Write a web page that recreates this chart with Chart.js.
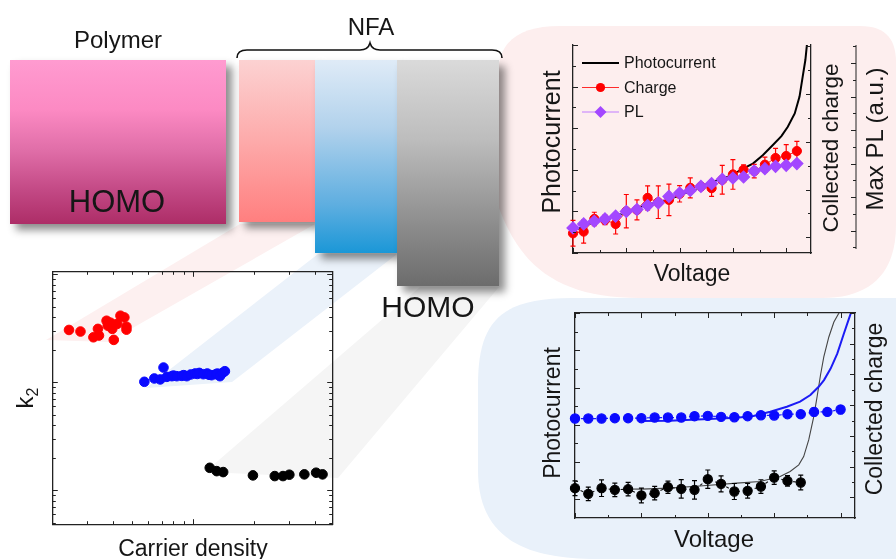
<!DOCTYPE html>
<html>
<head>
<meta charset="utf-8">
<script src="https://cdn.jsdelivr.net/npm/chart.js@4.4.1/dist/chart.umd.min.js"></script>
<style>
html, body { margin: 0; padding: 0; background: #fff; }
#stage { position: relative; width: 896px; height: 559px; overflow: hidden; }
#stage svg, #stage canvas, .box { position: absolute; }
#bg { left: 0; top: 0; z-index: 0; }
.box { z-index: 1; box-shadow: 6px 6px 8px rgba(0, 0, 0, 0.45); }
#stage canvas { z-index: 2; }
#labels { left: 0; top: 0; z-index: 3; font-family: "Liberation Sans", Arial, sans-serif; fill: #161616; }
</style>
</head>
<body>
<div id="stage">
  <svg id="bg" width="896" height="559">
    <path d="M 498,75 C 498,42 518,26 560,26 L 860,26 C 888,26 896,42 896,62 L 896,225 C 896,272 872,298 822,298 L 640,298 C 560,298 520,268 498,205 Z" fill="#fdeeee"/>
    <path d="M 478,385 C 478,322 500,298 572,298 L 896,298 L 896,559 L 590,559 C 530,557 478,542 478,470 Z" fill="#e9f1fa"/>
    <polygon points="240,224 315,224 108,342 46,340" fill="#fdf0f0"/>
    <polygon points="318,254 397,254 232,382 146,388" fill="#ebf2fa"/>
    <polygon points="420,287 499,287 338,478 205,472" fill="#f5f5f5"/>
    <path d="M 237,58 Q 237,50 247,50 L 360,50 Q 368,50 370,43 Q 372,50 380,50 L 492,50 Q 502,50 502,58" fill="none" stroke="#111" stroke-width="1.6"/>
  </svg>

  <div class="box" style="left:10px;top:60px;width:216px;height:164px;background:linear-gradient(#ff9bd0, #fc8ac3 30%, #e06ea8 55%, #c24884 80%, #ad2d67);"></div>
  <div class="box" style="left:239px;top:60px;width:76px;height:162px;background:linear-gradient(#fcd2d2, #fdaaaa 50%, #ff7f7f);"></div>
  <div class="box" style="left:315px;top:60px;width:82px;height:193px;background:linear-gradient(#dfebf7, #b2d2ec 35%, #5eaee0 75%, #1b97d7);"></div>
  <div class="box" style="left:397px;top:60px;width:102px;height:226px;background:linear-gradient(#dadada, #bdbdbd 35%, #8a8a8a 75%, #6c6c6c);"></div>

  <canvas id="densityChart" width="291" height="264" style="left:47px;top:266px"></canvas>
  <canvas id="plChart" width="320" height="230" style="left:560px;top:35px"></canvas>
  <canvas id="blendChart" width="300" height="225" style="left:565px;top:303px"></canvas>

  <svg id="labels" width="896" height="559">
    <text x="118" y="48" font-size="24" text-anchor="middle">Polymer</text>
    <text x="371" y="35" font-size="24" text-anchor="middle">NFA</text>
    <text x="117" y="212" font-size="31" text-anchor="middle">HOMO</text>
    <text x="428" y="317" font-size="30" text-anchor="middle">HOMO</text>

    <text x="193" y="556" font-size="23" text-anchor="middle">Carrier density</text>
    <text transform="translate(33,398) rotate(-90)" font-size="24" text-anchor="middle">k<tspan font-size="16" dy="5">2</tspan></text>

    <text transform="translate(560,142) rotate(-90)" font-size="25" text-anchor="middle">Photocurrent</text>
    <text x="692" y="281" font-size="23" text-anchor="middle">Voltage</text>
    <text transform="translate(838,148) rotate(-90)" font-size="22.5" text-anchor="middle">Collected charge</text>
    <text transform="translate(883,139) rotate(-90)" font-size="24" text-anchor="middle">Max PL (a.u.)</text>

    <text transform="translate(560,413) rotate(-90)" font-size="23" text-anchor="middle">Photocurrent</text>
    <text x="714" y="547" font-size="24" text-anchor="middle">Voltage</text>
    <text transform="translate(882,409) rotate(-90)" font-size="23" text-anchor="middle">Collected charge</text>
  </svg>
</div>

<script>
// k2 vs carrier density, one cluster per acceptor
const redDensity = [2.43, 2.77, 3.21, 3.38, 3.42, 3.73, 3.78, 3.90, 3.98, 4.05, 4.21, 4.37, 4.57, 4.68, 4.68];
const redK2 = [30.4, 29.4, 26.0, 31.1, 27.0, 37.0, 33.3, 35.5, 31.1, 24.6, 34.6, 41.2, 39.7, 32.6, 30.6];
const blueDensity = [5.74, 6.43, 6.88, 7.14, 7.42, 7.85, 8.0, 8.31, 8.80, 9.0, 9.31, 9.74, 10.23, 10.5, 10.74, 11.24, 11.76, 12.0, 12.36, 12.98, 13.2, 13.59, 14.01, 14.38];
const blueK2 = [10.07, 10.81, 10.59, 13.64, 11.19, 11.35, 11.5, 11.35, 11.42, 11.6, 11.35, 11.77, 12.02, 11.9, 12.17, 11.84, 12.02, 11.7, 11.59, 11.84, 12.0, 11.35, 12.17, 12.62];
const blackDensity = [12.1, 13.1, 14.1, 19.8, 25.4, 27.9, 30.0, 35.6, 40.7, 43.8];
const blackK2 = [1.61, 1.50, 1.47, 1.37, 1.35, 1.35, 1.39, 1.40, 1.45, 1.40];

// photocurrent, collected charge and PL vs voltage (top panel)
const photoVoltage = [0, 0.19, 0.375, 0.625, 1.0, 1.19, 1.375, 1.56, 1.75, 2.0, 2.19, 2.375, 2.56, 2.78, 3.0, 3.19, 3.375, 3.56, 3.75, 3.91, 4.03, 4.16, 4.25, 4.31, 4.36, 4.40];
const photocurrent = [1.11, 1.24, 1.48, 1.64, 1.96, 2.13, 2.29, 2.45, 2.53, 2.77, 2.96, 3.17, 3.37, 3.54, 3.77, 4.06, 4.30, 4.70, 5.19, 5.62, 6.07, 6.71, 7.52, 8.49, 9.29, 10.3];
const stepVoltage = [0, 0.2, 0.4, 0.6, 0.8, 1.0, 1.2, 1.4, 1.6, 1.8, 2.0, 2.2, 2.4, 2.6, 2.8, 3.0, 3.2, 3.4, 3.6, 3.8, 4.0, 4.2];
const chargeValues = [1.085, 1.12, 1.385, 1.364, 1.28, 1.546, 1.574, 1.825, 1.734, 1.783, 1.909, 2.035, 2.063, 2.028, 2.203, 2.315, 2.413, 2.385, 2.518, 2.658, 2.70, 2.804];
const chargeErrors = [0.27, 0.24, 0.14, 0.10, 0.21, 0.35, 0.21, 0.25, 0.34, 0.33, 0.17, 0.21, 0.08, 0.17, 0.30, 0.31, 0.10, 0.14, 0.16, 0.20, 0.24, 0.20];
const plValues = [1.08, 1.20, 1.28, 1.35, 1.43, 1.57, 1.63, 1.75, 1.83, 2.02, 2.12, 2.20, 2.32, 2.40, 2.53, 2.57, 2.60, 2.78, 2.85, 2.92, 2.95, 3.00];

// photocurrent and collected charge for the two blends (bottom panel)
const bluePhotoVoltage = [0.995, 1.424, 1.93, 2.434, 2.687, 2.94, 3.19, 3.39, 3.545, 3.67, 3.75, 3.85, 3.95, 4.05, 4.126, 4.177];
const bluePhotocurrent = [3.10, 3.11, 3.147, 3.19, 3.236, 3.352, 3.486, 3.62, 3.80, 4.02, 4.20, 4.51, 4.91, 5.45, 5.85, 6.11];
const blackPhotoVoltage = [0.8, 1.0, 1.424, 1.93, 2.434, 2.788, 3.09, 3.24, 3.37, 3.444, 3.52, 3.596, 3.646, 3.697, 3.747, 3.823, 3.899, 3.975, 4.02];
const blackPhotocurrent = [1.28, 1.275, 1.302, 1.365, 1.436, 1.48, 1.614, 1.748, 1.926, 2.149, 2.594, 3.218, 3.753, 4.33, 4.82, 5.357, 5.758, 6.0, 6.25];
const blueStepVoltage = [0, 0.2, 0.4, 0.6, 0.8, 1.0, 1.2, 1.4, 1.6, 1.8, 2.0, 2.2, 2.4, 2.6, 2.8, 3.0, 3.2, 3.4, 3.6, 3.8, 4.0];
const blueCharge = [3.568, 3.568, 3.568, 3.579, 3.579, 3.579, 3.60, 3.60, 3.60, 3.644, 3.655, 3.622, 3.611, 3.644, 3.676, 3.666, 3.709, 3.709, 3.784, 3.784, 3.86];
const blueChargeErrors = [0.04, 0.03, 0.03, 0.03, 0.04, 0.04, 0.05, 0.05, 0.04, 0.06, 0.08, 0.05, 0.05, 0.07, 0.10, 0.07, 0.05, 0.06, 0.13, 0.10, 0.13];
const blackStepVoltage = [0, 0.2, 0.4, 0.6, 0.8, 1.0, 1.2, 1.4, 1.6, 1.8, 2.0, 2.2, 2.4, 2.6, 2.8, 3.0, 3.2, 3.4];
const blackCharge = [1.303, 1.12, 1.303, 1.249, 1.271, 1.066, 1.141, 1.335, 1.282, 1.249, 1.594, 1.443, 1.195, 1.217, 1.357, 1.648, 1.54, 1.487];
const blackChargeErrors = [0.24, 0.22, 0.27, 0.22, 0.22, 0.24, 0.22, 0.2, 0.3, 0.3, 0.3, 0.26, 0.26, 0.24, 0.22, 0.22, 0.17, 0.24];

const FONT = '"Liberation Sans", Arial, sans-serif';
const AXIS_COLOR = "#222";

function toXY(xs, ys) {
    return xs.map((x, i) => ({ x: x, y: ys[i] }));
}

function linearTicks(min, max, step) {
    const out = [];
    for (let v = min; v <= max + 1e-9; v += step) {
        out.push(Math.round(v * 1000) / 1000);
    }
    return out;
}

function logTicks(min, max) {
    const major = [];
    const minor = [];
    for (let p = Math.floor(Math.log10(min)); p <= Math.ceil(Math.log10(max)); p++) {
        for (let m = 1; m < 10; m++) {
            const v = m * Math.pow(10, p);
            if (v < min * 0.999 || v > max * 1.001) continue;
            (m === 1 ? major : minor).push(v);
        }
    }
    return { major, minor };
}

// axis frame: border line only, labels and grid switched off
function frameAxis(extra) {
    return Object.assign({
        display: true,
        border: { display: true, color: AXIS_COLOR, width: 1.3 },
        grid: { display: false, drawTicks: false },
        ticks: { display: false }
    }, extra);
}

// tick marks pointing into the plot, Origin style
const insideTicks = {
    id: "insideTicks",
    afterDraw(chart, args, opts) {
        const ctx = chart.ctx;
        const area = chart.chartArea;
        ctx.save();
        ctx.strokeStyle = AXIS_COLOR;
        ctx.lineWidth = 1;
        for (const axis of opts.axes || []) {
            const scale = chart.scales[axis.scale];
            const marks = axis.major.map(v => [v, 5]).concat(axis.minor.map(v => [v, 3]));
            ctx.beginPath();
            if (axis.edge === "bottom" || axis.edge === "top") {
                const y = axis.edge === "bottom" ? area.bottom : area.top;
                const dir = axis.edge === "bottom" ? -1 : 1;
                for (const [v, len] of marks) {
                    const x = Math.round(scale.getPixelForValue(v)) + 0.5;
                    ctx.moveTo(x, y);
                    ctx.lineTo(x, y + dir * len);
                }
            } else {
                const x = axis.edge === "left" ? area.left : area.right + (axis.offset || 0);
                const dir = axis.edge === "left" ? 1 : -1;
                for (const [v, len] of marks) {
                    const y = Math.round(scale.getPixelForValue(v)) + 0.5;
                    ctx.moveTo(x, y);
                    ctx.lineTo(x + dir * len, y);
                }
                if (axis.line) {
                    ctx.moveTo(x, area.top);
                    ctx.lineTo(x, area.bottom - 4);
                }
            }
            ctx.stroke();
        }
        ctx.restore();
    }
};

// vertical error bars with caps, drawn under the markers of the dataset
const errorBars = {
    id: "errorBars",
    beforeDatasetDraw(chart, args) {
        const ds = chart.data.datasets[args.index];
        if (!ds.errors) return;
        const meta = args.meta;
        const yScale = chart.scales[meta.yAxisID];
        const ctx = chart.ctx;
        ctx.save();
        ctx.strokeStyle = ds.errorColor || ds.pointBackgroundColor;
        ctx.lineWidth = 1.2;
        ctx.beginPath();
        meta.data.forEach((pt, i) => {
            const v = ds.data[i].y;
            const e = ds.errors[i];
            const top = yScale.getPixelForValue(v + e);
            const bottom = yScale.getPixelForValue(v - e);
            ctx.moveTo(pt.x, top);
            ctx.lineTo(pt.x, bottom);
            ctx.moveTo(pt.x - 2.5, top);
            ctx.lineTo(pt.x + 2.5, top);
            ctx.moveTo(pt.x - 2.5, bottom);
            ctx.lineTo(pt.x + 2.5, bottom);
        });
        ctx.stroke();
        ctx.restore();
    }
};

// line + marker legend inside the plot area
const panelLegend = {
    id: "panelLegend",
    afterDraw(chart, args, opts) {
        if (!opts.show) return;
        const ctx = chart.ctx;
        const area = chart.chartArea;
        ctx.save();
        chart.data.datasets.forEach((ds, i) => {
            const x = area.left + opts.x;
            const y = area.top + opts.y + i * opts.gap;
            ctx.strokeStyle = ds.borderColor;
            ctx.lineWidth = ds.borderWidth;
            ctx.beginPath();
            ctx.moveTo(x, y);
            ctx.lineTo(x + opts.length, y);
            ctx.stroke();
            if (ds.pointRadius > 0) {
                ctx.fillStyle = ds.pointBackgroundColor;
                const cx = x + opts.length / 2;
                const r = ds.pointRadius;
                ctx.beginPath();
                if (ds.pointStyle === "rectRot") {
                    ctx.moveTo(cx, y - r);
                    ctx.lineTo(cx + r, y);
                    ctx.lineTo(cx, y + r);
                    ctx.lineTo(cx - r, y);
                    ctx.closePath();
                } else {
                    ctx.arc(cx, y, r, 0, Math.PI * 2);
                }
                ctx.fill();
            }
            ctx.fillStyle = "#161616";
            ctx.font = "16px " + FONT;
            ctx.textBaseline = "middle";
            ctx.fillText(ds.label, x + opts.length + 5, y + 1);
        });
        ctx.restore();
    }
};

Chart.register(insideTicks, errorBars, panelLegend);
Chart.defaults.font.family = FONT;

const baseOptions = {
    responsive: false,
    animation: false,
    events: [],
    plugins: { legend: { display: false }, tooltip: { enabled: false } }
};

// --- k2 vs carrier density ---
const densityX = { min: 2.02, max: 48.9 };
const densityY = { min: 0.484, max: 105 };
const densityXTicks = logTicks(densityX.min, densityX.max);
const densityYTicks = logTicks(densityY.min, densityY.max);

function clusterSet(xs, ys, color) {
    return {
        data: toXY(xs, ys),
        showLine: false,
        pointRadius: 4.8,
        pointBackgroundColor: color,
        pointBorderColor: color,
        pointBorderWidth: 1,
        clip: false
    };
}

new Chart(document.getElementById("densityChart"), {
    type: "scatter",
    data: {
        datasets: [
            clusterSet(redDensity, redK2, "#ff0000"),
            clusterSet(blueDensity, blueK2, "#0a0aff"),
            clusterSet(blackDensity, blackK2, "#000000")
        ]
    },
    options: Object.assign({}, baseOptions, {
        layout: { padding: 5 },
        scales: {
            x: frameAxis({ type: "logarithmic", position: "bottom", min: densityX.min, max: densityX.max }),
            xTop: frameAxis({ type: "logarithmic", position: "top", min: densityX.min, max: densityX.max }),
            y: frameAxis({ type: "logarithmic", position: "left", min: densityY.min, max: densityY.max }),
            yRight: frameAxis({ type: "logarithmic", position: "right", min: densityY.min, max: densityY.max })
        },
        plugins: Object.assign({}, baseOptions.plugins, {
            insideTicks: {
                axes: [
                    { scale: "x", edge: "bottom", major: densityXTicks.major, minor: densityXTicks.minor },
                    { scale: "xTop", edge: "top", major: densityXTicks.major, minor: densityXTicks.minor },
                    { scale: "y", edge: "left", major: densityYTicks.major, minor: densityYTicks.minor },
                    { scale: "yRight", edge: "right", major: densityYTicks.major, minor: densityYTicks.minor }
                ]
            }
        })
    })
});

// --- photocurrent / collected charge / PL ---
new Chart(document.getElementById("plChart"), {
    type: "line",
    data: {
        datasets: [
            {
                label: "Photocurrent",
                data: toXY(photoVoltage, photocurrent),
                yAxisID: "y",
                borderColor: "#000000",
                borderWidth: 2,
                pointRadius: 0,
                order: 3
            },
            {
                label: "Charge",
                data: toXY(stepVoltage, chargeValues),
                yAxisID: "yCharge",
                errors: chargeErrors,
                borderColor: "#ff2a2a",
                borderWidth: 1,
                pointRadius: 4.6,
                pointBackgroundColor: "#ff0000",
                pointBorderColor: "#ff0000",
                clip: false,
                order: 2
            },
            {
                label: "PL",
                data: toXY(stepVoltage, plValues),
                yAxisID: "yPL",
                borderColor: "#c27dff",
                borderWidth: 1.2,
                pointStyle: "rectRot",
                pointRadius: 6,
                pointBackgroundColor: "#a347ff",
                pointBorderColor: "#a347ff",
                clip: false,
                order: 1
            }
        ]
    },
    options: Object.assign({}, baseOptions, {
        layout: { padding: { left: 13, top: 10, right: 69, bottom: 12 } },
        scales: {
            x: frameAxis({ type: "linear", position: "bottom", min: 0, max: 4.465 }),
            y: frameAxis({ type: "linear", position: "left", min: 0, max: 10 }),
            yCharge: frameAxis({ type: "linear", position: "right", min: 0.673, max: 5.02 }),
            yPL: { type: "linear", position: "right", min: 0.332, max: 6.54, display: false }
        },
        plugins: Object.assign({}, baseOptions.plugins, {
            panelLegend: { show: true, x: 9, y: 18, gap: 24.5, length: 37 },
            insideTicks: {
                axes: [
                    { scale: "x", edge: "bottom", major: linearTicks(0, 4, 1), minor: linearTicks(0.5, 3.5, 1) },
                    { scale: "y", edge: "left", major: linearTicks(0, 10, 2), minor: linearTicks(1, 9, 2) },
                    { scale: "yCharge", edge: "right", major: linearTicks(1, 5, 1), minor: linearTicks(1.5, 4.5, 1) },
                    { scale: "yPL", edge: "right", offset: 45, line: true, major: linearTicks(1, 6, 1), minor: linearTicks(0.5, 6.5, 1) }
                ]
            }
        })
    })
});

// --- two blends: photocurrent lines and collected charge ---
new Chart(document.getElementById("blendChart"), {
    type: "line",
    data: {
        datasets: [
            {
                data: toXY(blueStepVoltage, blueCharge),
                yAxisID: "yCharge",
                errors: blueChargeErrors,
                borderColor: "#1a1aff",
                borderWidth: 1.2,
                borderDash: [3, 3],
                pointRadius: 4.6,
                pointBackgroundColor: "#0a0aff",
                pointBorderColor: "#0a0aff",
                clip: false
            },
            {
                data: toXY(blackStepVoltage, blackCharge),
                yAxisID: "yCharge",
                errors: blackChargeErrors,
                borderColor: "#111111",
                borderWidth: 1.1,
                borderDash: [3, 3],
                pointRadius: 4.6,
                pointBackgroundColor: "#000000",
                pointBorderColor: "#000000",
                clip: false
            },
            {
                data: toXY(bluePhotoVoltage, bluePhotocurrent),
                yAxisID: "y",
                borderColor: "#1c1cf5",
                borderWidth: 2,
                pointRadius: 0
            },
            {
                data: toXY(blackPhotoVoltage, blackPhotocurrent),
                yAxisID: "y",
                borderColor: "#444444",
                borderWidth: 1.1,
                pointRadius: 0
            }
        ]
    },
    options: Object.assign({}, baseOptions, {
        layout: { padding: 10 },
        scales: {
            x: frameAxis({ type: "linear", position: "bottom", min: 0, max: 4.217 }),
            xTop: frameAxis({ type: "linear", position: "top", min: 0, max: 4.217 }),
            y: frameAxis({ type: "linear", position: "left", min: 0.5, max: 6 }),
            yCharge: frameAxis({ type: "linear", position: "right", min: 0.333, max: 7 })
        },
        plugins: Object.assign({}, baseOptions.plugins, {
            insideTicks: {
                axes: [
                    { scale: "x", edge: "bottom", major: linearTicks(0, 4, 1), minor: linearTicks(0.5, 3.5, 1) },
                    { scale: "xTop", edge: "top", major: linearTicks(0, 4, 1), minor: linearTicks(0.5, 3.5, 1) },
                    { scale: "y", edge: "left", major: linearTicks(1, 6, 1), minor: linearTicks(1.5, 5.5, 1) },
                    { scale: "yCharge", edge: "right", major: linearTicks(1, 7, 1), minor: linearTicks(1.5, 6.5, 1) }
                ]
            }
        })
    })
});
</script>
</body>
</html>
